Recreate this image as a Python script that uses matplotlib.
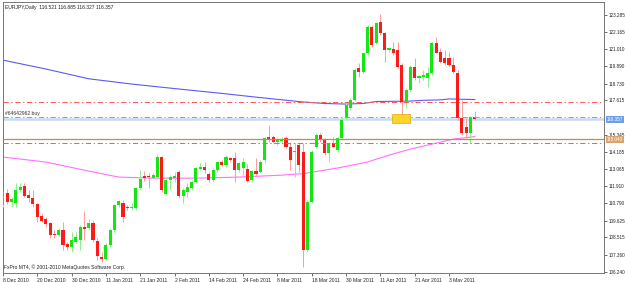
import numpy as np
import matplotlib
matplotlib.use('Agg')
import matplotlib.pyplot as plt
from matplotlib.patches import Rectangle
from matplotlib.transforms import blended_transform_factory

# EURJPY daily candles (8 Dec 2010 .. 11 May 2011)
opens = [
    110.67, 111.49, 110.87, 110.82, 111.66, 111.93, 111.33, 111.11, 110.73, 109.94,
    109.72, 109.49, 108.72, 108.68, 109.01, 108.08, 107.86, 108.23, 108.34, 109.23,
    109.12, 109.49, 108.30, 107.20, 107.06, 108.01, 109.01, 110.67, 110.82, 110.56,
    110.45, 110.49, 111.82, 112.61, 112.59, 112.48, 112.55, 113.88, 111.40, 112.33,
    112.48, 112.84, 111.29, 111.51, 111.78, 112.22, 113.06, 113.21, 112.71, 112.33,
    112.99, 113.50, 113.32, 113.81, 113.77, 112.99, 113.11, 113.04, 112.33, 112.93,
    112.88, 113.66, 115.20, 115.20, 114.87, 114.94, 115.10, 114.50, 114.19, 114.65,
    114.19, 107.68, 110.89, 114.54, 115.32, 114.98, 114.10, 114.77, 114.32, 115.10,
    116.43, 117.09, 117.64, 119.75, 119.52, 120.74, 122.51, 121.41, 122.84, 122.11,
    120.96, 121.01, 120.96, 119.96, 117.53, 118.30, 119.85, 119.08, 119.19, 119.10,
    119.41, 121.41, 120.85, 120.41, 120.41, 119.96, 119.41, 116.43, 115.87, 115.43,
    116.521]
highs = [
    111.55, 111.71, 111.22, 112.11, 112.11, 112.15, 111.66, 111.66, 110.78, 110.12,
    109.89, 109.56, 109.01, 109.12, 109.56, 108.23, 108.90, 108.90, 109.34, 110.29,
    109.72, 109.67, 108.46, 107.57, 108.13, 109.05, 110.70, 111.00, 111.00, 110.67,
    110.78, 111.88, 112.99, 112.93, 112.79, 112.77, 114.03, 113.90, 112.44, 112.66,
    112.88, 112.99, 111.82, 112.11, 112.33, 113.21, 113.44, 113.50, 112.88, 113.11,
    113.59, 113.66, 113.99, 113.88, 114.17, 113.54, 113.77, 113.39, 112.99, 113.77,
    113.66, 115.20, 115.98, 115.32, 115.10, 115.20, 115.25, 114.77, 114.77, 114.79,
    114.77, 111.00, 114.32, 115.43, 115.43, 115.10, 114.87, 115.20, 115.20, 116.43,
    117.42, 117.75, 119.75, 120.08, 120.78, 122.62, 122.62, 122.84, 123.35, 122.18,
    121.18, 121.51, 121.51, 120.08, 118.42, 119.96, 120.41, 119.30, 119.63, 119.85,
    121.51, 121.84, 121.07, 120.96, 120.85, 120.52, 119.63, 117.64, 116.43, 116.58,
    116.885]
lows = [
    110.56, 110.73, 110.56, 110.56, 111.55, 111.22, 110.89, 110.56, 109.56, 109.56,
    109.19, 108.46, 108.46, 108.62, 107.68, 107.68, 107.57, 108.13, 107.68, 108.34,
    109.01, 108.23, 107.02, 106.90, 107.02, 107.90, 108.90, 110.56, 109.56, 110.34,
    110.34, 110.34, 111.66, 112.26, 111.82, 112.44, 112.44, 111.51, 111.33, 111.66,
    112.22, 111.15, 110.78, 111.22, 111.66, 112.11, 112.99, 112.77, 112.22, 112.26,
    112.88, 113.28, 113.21, 113.54, 112.22, 112.88, 112.66, 112.22, 112.22, 112.66,
    112.81, 113.46, 114.85, 114.77, 114.65, 114.81, 114.43, 112.99, 112.55, 112.86,
    106.57, 107.57, 110.78, 114.43, 114.87, 113.99, 113.54, 114.50, 114.21, 114.98,
    116.31, 116.98, 117.59, 119.19, 119.45, 120.63, 121.18, 121.36, 121.96, 120.18,
    120.85, 120.63, 119.75, 116.53, 117.09, 118.19, 118.97, 118.75, 118.97, 118.52,
    119.30, 120.74, 120.08, 119.96, 119.85, 119.41, 116.31, 115.32, 115.10, 114.77,
    116.327]
closes = [
    111.45, 110.89, 111.05, 111.66, 111.88, 111.27, 111.11, 110.73, 109.89, 109.63,
    109.41, 108.68, 108.69, 109.01, 108.01, 107.90, 108.34, 108.52, 109.19, 109.05,
    109.49, 108.34, 107.28, 107.10, 108.01, 109.01, 110.67, 110.95, 109.89, 110.45,
    110.56, 111.82, 112.39, 112.48, 112.53, 112.66, 113.88, 111.66, 112.33, 112.51,
    112.59, 111.29, 111.66, 111.88, 112.22, 113.11, 113.21, 112.99, 112.33, 112.99,
    113.50, 113.32, 113.88, 113.66, 112.99, 113.44, 113.54, 112.28, 112.93, 112.71,
    113.54, 115.10, 114.98, 114.87, 114.98, 115.03, 114.50, 113.66, 114.23, 113.32,
    107.68, 110.89, 114.21, 115.32, 114.98, 114.10, 114.77, 114.54, 115.10, 116.31,
    117.31, 117.64, 119.63, 119.48, 120.74, 122.51, 121.29, 122.73, 122.07, 120.96,
    121.07, 120.74, 119.85, 117.53, 118.30, 119.85, 119.08, 119.23, 119.30, 119.41,
    121.41, 120.78, 120.18, 120.08, 119.96, 119.52, 116.43, 115.43, 115.43, 116.53,
    116.357]

# moving averages (sampled at bar indices)
blue_idx = [0, 10, 20, 30, 40, 50, 60, 70, 75, 80, 84, 87, 95, 98, 102, 104, 110]
blue_ma = [120.29, 119.70, 119.05, 118.70, 118.40, 118.11, 117.80, 117.51, 117.41,
           117.37, 117.41, 117.54, 117.57, 117.62, 117.65, 117.71, 117.67]
mag_idx = [0, 10, 20, 27, 35, 45, 55, 65, 70, 78, 85, 90, 95, 100, 105, 110]
mag_ma = [113.85, 113.52, 112.92, 112.52, 112.45, 112.45, 112.52, 112.65, 112.75,
          113.12, 113.52, 113.98, 114.38, 114.71, 115.04, 115.21]

# horizontal levels
tp_level = 117.49
entry_level = 116.53
bid_level = closes[-1]
orange_level = 115.04
sl_level = 114.80
order_label = '#64642962 buy'

# yellow box (bar range, price range)
box_bars = (90.8, 94.8)
box_prices = (116.09, 116.69)

date_idx = [0, 8, 16, 24, 32, 40, 48, 56, 64, 72, 80, 88, 96, 104]
date_labels = ['8 Dec 2010', '20 Dec 2010', '30 Dec 2010', '11 Jan 2011', '21 Jan 2011',
               '2 Feb 2011', '14 Feb 2011', '24 Feb 2011', '8 Mar 2011', '18 Mar 2011',
               '30 Mar 2011', '11 Apr 2011', '21 Apr 2011', '3 May 2011']
price_ticks = [123.285, 122.165, 121.010, 119.890, 118.730, 117.615, 115.345,
               114.185, 113.065, 111.910, 110.790, 109.625, 108.515, 107.360, 106.240]

plt.rcParams['font.family'] = ['Liberation Sans', 'DejaVu Sans']
FS = 3.6
FSY = 3.3

W, H = 625, 282
fig = plt.figure(figsize=(W / 100, H / 100), dpi=100)
fig.patch.set_facecolor('white')
ax = fig.add_axes([2.5 / W, 1 - 273 / H, (604.3 - 2.5) / W, (273 - 2) / H])
ax.set_xlim(-0.1, 140.2)
ax.set_ylim(106.15, 124.15)

o = np.array(opens)
h = np.array(highs)
l = np.array(lows)
c = np.array(closes)
x = np.arange(len(o))
up = c >= o
body_col = np.where(up, '#14e614', '#ff1a1a')
wick_col = np.where(up, '#8cf08c', '#ff9a9a')
height = c - o
height = np.where(np.abs(height) < 0.03, 0.03, height)

# indicators
ax.plot(blue_idx, blue_ma, color='#5b5bf0', lw=0.8, zorder=2)
ax.plot(mag_idx, mag_ma, color='#ff70ff', lw=0.8, zorder=2)

ax.vlines(x, l, h, colors=wick_col, linewidth=0.7, zorder=3)
ax.bar(x, height, bottom=o, width=0.72, color=body_col, linewidth=0, zorder=4)

dd = (0, (5, 2.5, 1.3, 2.5))
ax.axhline(bid_level, color='#c9daf2', lw=1.8, zorder=1)
ax.axhline(tp_level, color='#ff5a5a', lw=0.75, ls=dd, zorder=5)
ax.axhline(entry_level, color='#55d455', lw=0.75, ls=dd, zorder=5)
ax.axhline(orange_level, color='#c98a4b', lw=0.9, zorder=5)
ax.axhline(sl_level, color='#ff5a5a', lw=0.75, ls=dd, zorder=5)

ax.add_patch(Rectangle((box_bars[0], box_prices[0]), box_bars[1] - box_bars[0],
                       box_prices[1] - box_prices[0], facecolor='#ffd42a',
                       edgecolor='#e8a800', lw=0.5, zorder=6))

tr = blended_transform_factory(ax.transAxes, ax.transData)
ax.text(0.004, entry_level + 0.08, order_label, transform=tr, fontsize=FS,
        color='#333333', va='bottom', ha='left')

# price axis on the right
ax.yaxis.tick_right()
ax.set_yticks(price_ticks)
ax.set_yticklabels(['%.3f' % p for p in price_ticks])
ax.tick_params(axis='y', length=2, width=0.6, pad=1, labelsize=FSY,
               color='#555555', labelcolor='#222222')
ax.set_xticks(date_idx)
ax.set_xticklabels(date_labels, ha='left')
ax.tick_params(axis='x', length=2.5, width=0.6, pad=0.8, labelsize=FS,
               color='#555555', labelcolor='#222222')
for s in ax.spines.values():
    s.set_color('#777777')
    s.set_linewidth(0.7)

ax.text(1.004, bid_level, '%.3f' % bid_level, transform=tr, fontsize=FSY,
        color='white', va='center', ha='left',
        bbox=dict(boxstyle='square,pad=0.2', fc='#6d9eeb', ec='none'))
ax.text(1.004, orange_level, '%.3f' % orange_level, transform=tr, fontsize=FSY,
        color='white', va='center', ha='left',
        bbox=dict(boxstyle='square,pad=0.2', fc='#d9a46b', ec='none'))

title = 'EURJPY,Daily  %.3f %.3f %.3f %.3f' % (opens[-1], highs[-1], lows[-1], closes[-1])
fig.text(5 / W, 1 - 8 / H, title, fontsize=FS, color='#222222', va='center')
fig.text(4 / W, 1 - 267 / H, 'FxPro MT4, \u00a9 2001-2010 MetaQuotes Software Corp.',
         fontsize=FS, color='#222222', va='center')

fig.savefig('out.png', dpi=100, facecolor='white')
